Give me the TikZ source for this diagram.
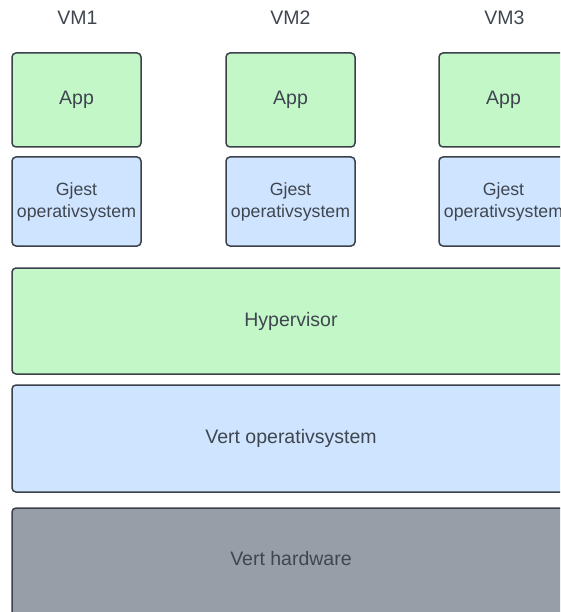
\documentclass[tikz,border=0pt]{standalone}
\usepackage{fontspec}
\setmainfont{Liberation Sans}
\definecolor{edge}{HTML}{3A414A}
\definecolor{ink}{HTML}{3F464F}
\definecolor{appgreen}{HTML}{C3F7C8}
\definecolor{osblue}{HTML}{CFE4FF}
\definecolor{hwgray}{HTML}{979EA8}
\tikzset{
  layerbox/.style={draw=edge, line width=1.5pt, rounded corners=4pt, inner sep=0pt,
    text=ink, font=\fontsize{19.5}{22}\selectfont, align=center},
  appbox/.style={layerbox, fill=appgreen, minimum width=129pt, minimum height=94pt},
  guestbox/.style={layerbox, fill=osblue, minimum width=129pt, minimum height=89pt,
    font=\fontsize{17.7}{22}\selectfont},
  vmlabel/.style={text=ink, font=\fontsize{19.5}{22}\selectfont, inner sep=0pt},
}
\begin{document}
\begin{tikzpicture}[x=1pt, y=-1pt]
  \useasboundingbox (0,0) rectangle (560,612);
  \clip (0,0) rectangle (560,612);

  % virtual machines
  \node[vmlabel] (vm1) at (77.5,18) {VM1};
  \node[vmlabel] (vm2) at (290.5,18) {VM2};
  \node[vmlabel] (vm3) at (504.5,18) {VM3};

  \node[appbox] (app1) at (76.5,100) {App};
  \node[appbox] (app2) at (290.5,100) {App};
  \node[appbox] (app3) at (503.5,100) {App};

  \node[guestbox] (gos1) at (76.5,201.5) {Gjest\\operativsystem};
  \node[guestbox] (gos2) at (290.5,201.5) {Gjest\\operativsystem};
  \node[guestbox] (gos3) at (503.5,201.5) {Gjest\\operativsystem};

  % shared layers
  \node[layerbox, fill=appgreen, minimum width=558pt, minimum height=106pt] (hyp) at (291,321) {Hypervisor};
  \node[layerbox, fill=osblue, minimum width=558pt, minimum height=107pt] (hostos) at (291,438.5) {Vert operativsystem};
  % the hardware layer runs past the lower edge
  \node[layerbox, fill=hwgray, minimum width=558pt, minimum height=112pt] (hw) at (291,564) {};
  \node[vmlabel] (hwtext) at (291,559) {Vert hardware};
\end{tikzpicture}
\end{document}
